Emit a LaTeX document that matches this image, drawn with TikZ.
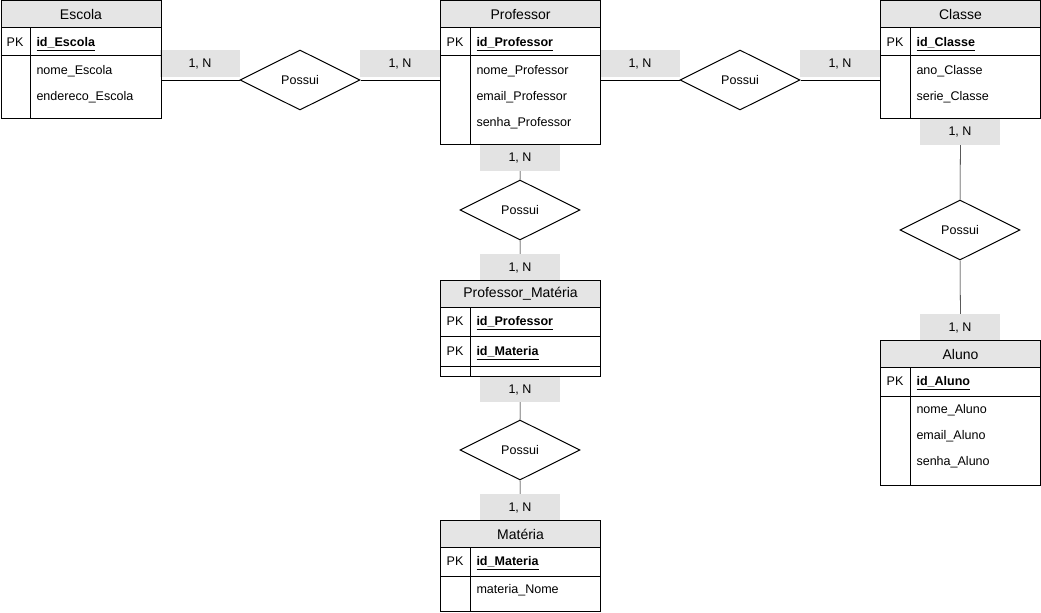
\documentclass[tikz,border=0pt]{standalone}
\usepackage{fontspec}
\setmainfont{Liberation Sans}
\usetikzlibrary{shapes.geometric}
\pgfdeclarelayer{background}
\pgfsetlayers{background,main}

\begin{document}
\begin{tikzpicture}[x=0.75pt, y=-0.75pt, line width=0.75pt,
  tbl/.style={draw, anchor=north west, inner sep=0pt, minimum width=120pt},
  tblhead/.style={draw, fill=black!10, anchor=north west, inner sep=0pt,
    minimum width=120pt, minimum height=20.25pt, font=\fontsize{10.5}{12}\selectfont},
  rel/.style={diamond, draw, fill=white, inner sep=0pt, minimum width=90pt,
    minimum height=45pt, font=\fontsize{9.4}{11}\selectfont},
  card/.style={fill=black!11, inner sep=0pt, minimum width=60pt, minimum height=20pt,
    text height=6.7pt, text depth=0pt, font=\fontsize{9.4}{11}\selectfont},
  attr/.style={anchor=west, inner sep=0pt, text height=6.7pt, text depth=0pt,
    font=\fontsize{9.4}{11}\selectfont},
  pk/.style={attr, anchor=center},
  key/.style={attr, font=\fontsize{9.4}{11}\selectfont\bfseries}]
\useasboundingbox (0,0) rectangle (1041,613);

% tabela Escola
\node[tbl, minimum height=88.1pt] (escola) at (0.5,0.5) {};
\node[tblhead] (escolaH) at (0.5,0.5) {Escola};
\draw (0.5,56) -- (160.5,56);
\draw (30,27.5) -- (30,118);
\node[pk] at (15,42) {PK};
\node[key] at (36,42) {\underline{id\_Escola}};
\node[attr] at (36,70) {nome\_Escola};
\node[attr] at (36,96) {endereco\_Escola};

% tabela Professor
\node[tbl, minimum height=107.6pt] (prof) at (440,0.5) {};
\node[tblhead] (profH) at (440,0.5) {Professor};
\draw (440,56) -- (600,56);
\draw (470,27.5) -- (470,144);
\node[pk] at (455,42) {PK};
\node[key] at (476,42) {\underline{id\_Professor}};
\node[attr] at (476,70) {nome\_Professor};
\node[attr] at (476,96) {email\_Professor};
\node[attr] at (476,122) {senha\_Professor};

% tabela Classe
\node[tbl, minimum height=88.1pt] (classe) at (880,0.5) {};
\node[tblhead] (classeH) at (880,0.5) {Classe};
\draw (880,56) -- (1040,56);
\draw (910,27.5) -- (910,118);
\node[pk] at (895,42) {PK};
\node[key] at (916,42) {\underline{id\_Classe}};
\node[attr] at (916,70) {ano\_Classe};
\node[attr] at (916,96) {serie\_Classe};

% tabela Professor_Materia
\node[tbl, minimum height=72pt] (profmat) at (440,280) {};
\node[tblhead] (profmatH) at (440,280) {Professor\_Matéria};
\draw (440,336) -- (600,336);
\draw (440,366) -- (600,366);
\draw (470,307) -- (470,376);
\node[pk] at (455,321) {PK};
\node[key] at (476,321) {\underline{id\_Professor}};
\node[pk] at (455,351) {PK};
\node[key] at (476,351) {\underline{id\_Materia}};

% tabela Aluno
\node[tbl, minimum height=108.75pt] (aluno) at (880,340) {};
\node[tblhead] (alunoH) at (880,340) {Aluno};
\draw (880,396) -- (1040,396);
\draw (910,367) -- (910,485);
\node[pk] at (895,381) {PK};
\node[key] at (916,381) {\underline{id\_Aluno}};
\node[attr] at (916,409) {nome\_Aluno};
\node[attr] at (916,435) {email\_Aluno};
\node[attr] at (916,461) {senha\_Aluno};

% tabela Materia
\node[tbl, minimum height=68.25pt] (materia) at (440,520) {};
\node[tblhead] (materiaH) at (440,520) {Matéria};
\draw (440,576) -- (600,576);
\draw (470,547) -- (470,611);
\node[pk] at (455,561) {PK};
\node[key] at (476,561) {\underline{id\_Materia}};
\node[attr] at (476,589) {materia\_Nome};

% relacionamentos
\node[rel] (possuiA) at (300,80) {Possui};
\node[rel] (possuiB) at (740,80) {Possui};
\node[rel] (possuiC) at (520,210) {Possui};
\node[rel] (possuiD) at (520,450) {Possui};
\node[rel] (possuiE) at (960,230) {Possui};

\begin{pgfonlayer}{background}
\draw (possuiA.west) -- (possuiA.west -| escola.east);
\draw (possuiA.east) -- (possuiA.east -| prof.west);
\draw (possuiB.west) -- (possuiB.west -| prof.east);
\draw (possuiB.east) -- (possuiB.east -| classe.west);
\draw (prof.south) -- (possuiC.north);
\draw (possuiC.south) -- (profmat.north);
\draw (profmat.south) -- (possuiD.north);
\draw (possuiD.south) -- (materia.north);
\draw (classe.south) -- (possuiE.north);
\draw (possuiE.south) -- (aluno.north);

% cardinalidades
\node[card] (cardA) at (200,63.5) {1, N};
\node[card] (cardB) at (400,63.5) {1, N};
\node[card] (cardC) at (640,63.5) {1, N};
\node[card] (cardD) at (840,63.5) {1, N};
\node[card] (cardE) at (520,157.5) {1, N};
\node[card] (cardF) at (520,267.5) {1, N};
\node[card] (cardG) at (520,389) {1, N};
\node[card] (cardH) at (520,507.5) {1, N};
\node[card] (cardI) at (960,131.5) {1, N};
\node[card] (cardJ) at (960,327.5) {1, N};
\end{pgfonlayer}
\end{tikzpicture}
\end{document}
